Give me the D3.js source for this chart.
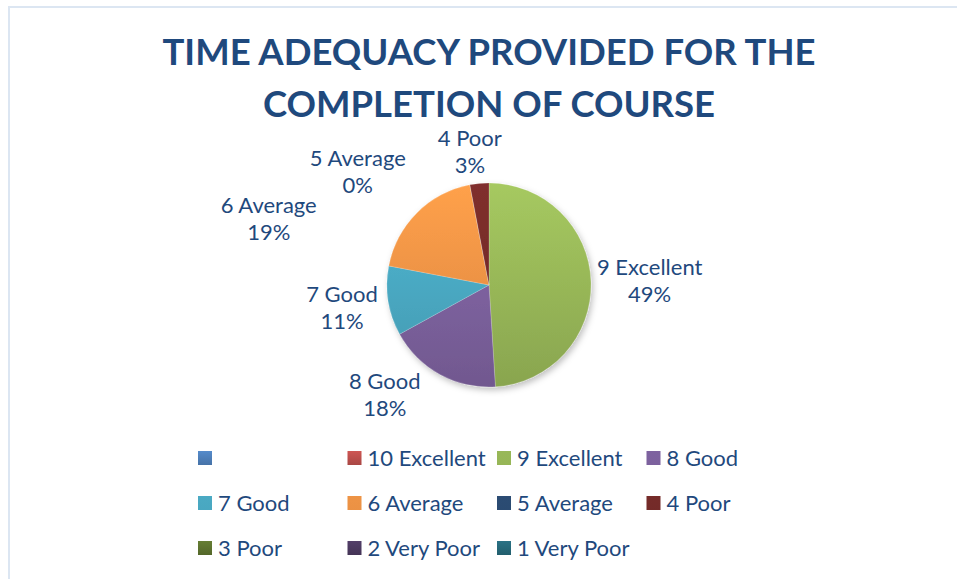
<!DOCTYPE html>
<html>
<head>
<meta charset="utf-8">
<script src="https://cdn.jsdelivr.net/npm/d3@7"></script>
<style>
  html, body { margin: 0; padding: 0; background: #fff; }
  svg { display: block; font-family: Lato, "Open Sans", sans-serif; }
</style>
</head>
<body>
<div id="container"></div>
<script>
// values
const titleLines = ["TIME ADEQUACY PROVIDED FOR THE", "COMPLETION OF COURSE"];
const sliceNames = ["9 Excellent", "8 Good", "7 Good", "6 Average", "5 Average", "4 Poor"];
const slicePct = [49, 18, 11, 19, 0, 3];
const legendNames = ["", "10 Excellent", "9 Excellent", "8 Good",
                     "7 Good", "6 Average", "5 Average", "4 Poor",
                     "3 Poor", "2 Very Poor", "1 Very Poor"];

// office palette, one per legend entry
const palette = {
    "": "#4f81bd", "10 Excellent": "#c0504d", "9 Excellent": "#9bbb59", "8 Good": "#8064a2",
    "7 Good": "#4bacc6", "6 Average": "#f79646", "5 Average": "#2c4d75", "4 Poor": "#772c2a",
    "3 Poor": "#5f7530", "2 Very Poor": "#4d3b62", "1 Very Poor": "#276a7c"
};

// best-fit label shifts (Excel moves crowded labels sideways)
const labelNudge = {
    "9 Excellent": [0, 0], "8 Good": [-35, -8], "7 Good": [-5, 2],
    "6 Average": [-110, 29], "5 Average": [-102, 20], "4 Poor": [-6, 1]
};

const width = 957, height = 579;
const cx = 489, cy = 285, radius = 102;
const textColor = "#1f497d";

const svg = d3.select("#container").append("svg")
    .attr("width", width)
    .attr("height", height);

const defs = svg.append("defs");
Object.keys(palette).forEach((name, i) => {
    let c = palette[name];
    let g = defs.append("linearGradient")
        .attr("id", "grad" + i)
        .attr("x1", 0).attr("y1", 0).attr("x2", 0).attr("y2", 1);
    g.append("stop").attr("offset", "0%").attr("stop-color", d3.color(c).brighter(0.2));
    g.append("stop").attr("offset", "100%").attr("stop-color", d3.color(c).darker(0.35));
});
const gradId = name => "url(#grad" + Object.keys(palette).indexOf(name) + ")";

defs.append("filter").attr("id", "shadow")
    .attr("x", "-20%").attr("y", "-20%").attr("width", "140%").attr("height", "140%")
    .append("feDropShadow")
    .attr("dx", 2).attr("dy", 3).attr("stdDeviation", 3)
    .attr("flood-color", "#000").attr("flood-opacity", 0.25);

// chart frame
svg.append("rect")
    .attr("x", 9).attr("y", 7)
    .attr("width", width + 20).attr("height", height + 20)
    .attr("fill", "#fff")
    .attr("stroke", "#dce6f2")
    .attr("stroke-width", 2);

// title
svg.append("g").selectAll("text")
    .data(titleLines)
    .enter().append("text")
    .attr("x", cx)
    .attr("y", (d, i) => 65 + i * 52)
    .attr("text-anchor", "middle")
    .attr("fill", textColor)
    .style("font-weight", "bold")
    .style("font-size", "36.5px")
    .text(d => d);

// pie
const data = sliceNames.map((n, i) => ({ name: n, v: slicePct[i] }));
const pie = d3.pie().sort(null).value(d => d.v);
const arc = d3.arc().innerRadius(0).outerRadius(radius);
const arcs = pie(data);

// gradient spans the whole pie, not each slice
arcs.forEach((a, i) => {
    defs.select("#grad" + Object.keys(palette).indexOf(a.data.name))
        .attr("gradientUnits", "userSpaceOnUse")
        .attr("x1", 0).attr("y1", -radius).attr("x2", 0).attr("y2", radius);
});

const pieG = svg.append("g")
    .attr("transform", `translate(${cx},${cy})`);

pieG.append("g")
    .attr("filter", "url(#shadow)")
    .selectAll("path")
    .data(arcs)
    .enter().append("path")
    .attr("d", arc)
    .attr("fill", d => gradId(d.data.name))
    .attr("stroke", "rgba(255,255,255,0.35)")
    .attr("stroke-width", 0.5);

// data labels: outside end, then nudged
const labelSize = 22, lineGap = 27;
const labels = pieG.append("g").selectAll("g")
    .data(arcs)
    .enter().append("g");

labels.each(function (d) {
    let g = d3.select(this);
    let t1 = g.append("text").text(d.data.name);
    let t2 = g.append("text").text(d.data.v + "%");
    g.selectAll("text")
        .attr("text-anchor", "middle")
        .attr("fill", textColor)
        .style("font-size", labelSize + "px");
    let w = Math.max(t1.node().getComputedTextLength(), t2.node().getComputedTextLength());
    let h = 54;
    let a = (d.startAngle + d.endAngle) / 2;
    let dx = Math.sin(a), dy = -Math.cos(a);
    let nudge = labelNudge[d.data.name];
    let lx = dx * (radius + 6) + dx * w / 2 + nudge[0];
    let ly = dy * (radius + 6) + dy * h / 2 + nudge[1];
    t1.attr("x", lx).attr("y", ly - 6);
    t2.attr("x", lx).attr("y", ly - 6 + lineGap);
});

// legend, 4 per row
const legendX = d3.scaleLinear().domain([0, 1]).range([198, 347.5]);
const legendY = d3.scaleLinear().domain([0, 1]).range([458, 503]);
const box = 14;

const legend = svg.append("g").selectAll("g")
    .data(legendNames)
    .enter().append("g")
    .attr("transform", (d, i) => `translate(${legendX(i % 4)},${legendY(Math.floor(i / 4))})`);

legend.append("rect")
    .attr("x", 0)
    .attr("y", -box / 2)
    .attr("width", box)
    .attr("height", box)
    .attr("fill", d => gradId(d));

legend.append("text")
    .attr("x", box + 6)
    .attr("y", 8)
    .attr("fill", textColor)
    .style("font-size", labelSize + "px")
    .text(d => d);
</script>
</body>
</html>
